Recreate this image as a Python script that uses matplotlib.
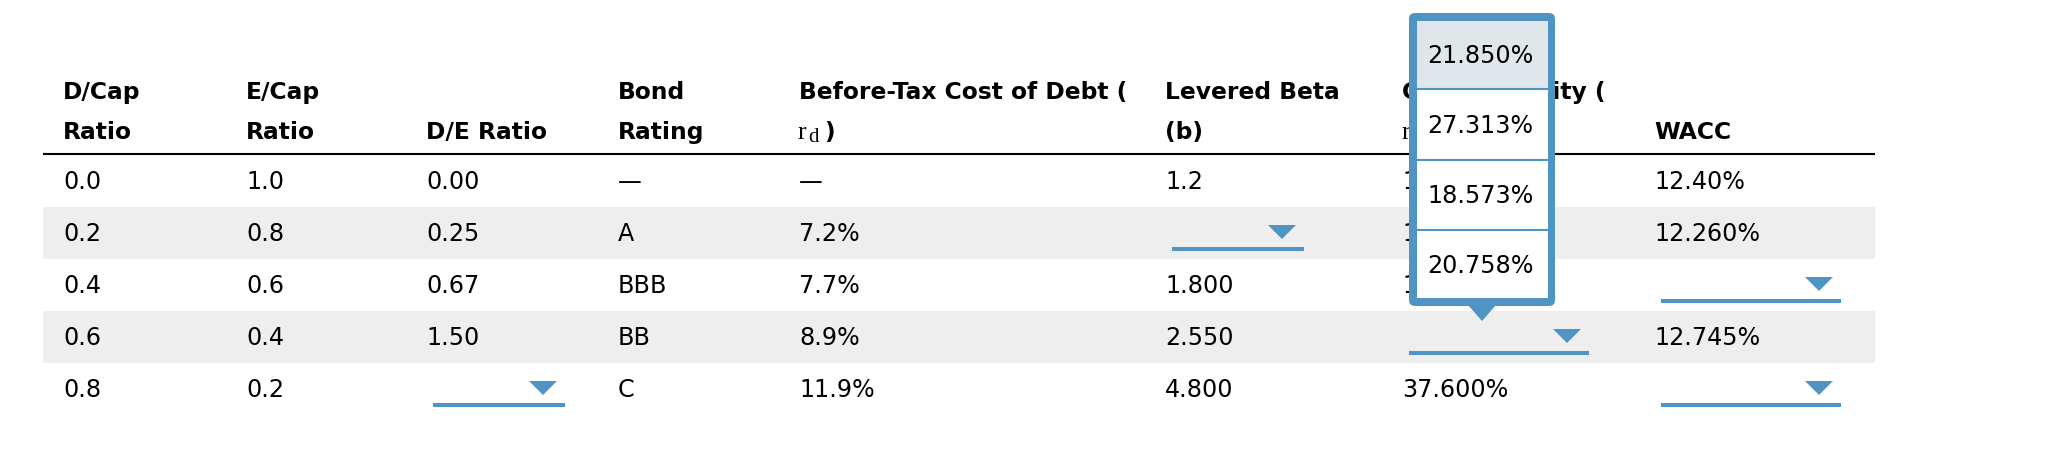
import matplotlib
matplotlib.use("Agg")
import matplotlib.pyplot as plt
from matplotlib.patches import FancyBboxPatch, Rectangle, Polygon

# ---------------- data ----------------
header_line1 = ["D/Cap", "E/Cap", "", "Bond", "Before-Tax Cost of Debt (", "Levered Beta", "Cost of Equity (", ""]
header_line2 = ["Ratio", "Ratio", "D/E Ratio", "Rating", None, "(b)", None, "WACC"]
dcap = ["0.0", "0.2", "0.4", "0.6", "0.8"]
ecap = ["1.0", "0.8", "0.6", "0.4", "0.2"]
de_ratio = ["0.00", "0.25", "0.67", "1.50", None]
bond_rating = ["—", "A", "BBB", "BB", "C"]
cost_debt = ["—", "7.2%", "7.7%", "8.9%", "11.9%"]
levered_beta = ["1.2", None, "1.800", "2.550", "4.800"]
cost_equity = ["12.40%", "13.975%", "16.600%", None, "37.600%"]
wacc = ["12.40%", "12.260%", None, "12.745%", None]
popup_options = ["21.850%", "27.313%", "18.573%", "20.758%"]

columns = [dcap, ecap, de_ratio, bond_rating, cost_debt, levered_beta, cost_equity, wacc]

# ---------------- layout / style ----------------
W, H = 2067, 458
col_x = [63, 246, 426, 618, 799, 1165, 1402, 1654]
row_base = [189, 241, 293, 345, 397]
hdr_base = [99, 139]
dropdown_width = {2: 132, 5: 132, 6: 180, 7: 180}
BLUE = "#5094c4"
GRAY = "#eeeeee"
HILITE = "#dfe7eb"
FS = 17.2
FSB = 16.8
FONT = "DejaVu Sans"

fig = plt.figure(figsize=(W / 100, H / 100), dpi=100)
ax = fig.add_axes([0, 0, 1, 1])
ax.set_xlim(0, W)
ax.set_ylim(H, 0)
ax.axis("off")

table_left, table_right = 43, 1875
# zebra bands
for i in range(len(dcap)):
    if i % 2 == 1:
        ax.add_patch(Rectangle((table_left, row_base[i] - 34), table_right - table_left, 52,
                               facecolor=GRAY, edgecolor="none", zorder=0))
# header rule
ax.plot([table_left, table_right], [153.7, 153.7], color="black", lw=1.5, solid_capstyle="butt", zorder=1)

# headers
for j, x in enumerate(col_x):
    if header_line1[j]:
        ax.text(x, hdr_base[0], header_line1[j], fontsize=FSB, fontweight="bold", family=FONT,
                va="baseline", ha="left", color="black", zorder=2)
    if header_line2[j]:
        ax.text(x, hdr_base[1], header_line2[j], fontsize=FSB, fontweight="bold", family=FONT,
                va="baseline", ha="left", color="black", zorder=2)

# r_d and r_e header pieces
for j, sub in [(4, "d"), (6, "e")]:
    x = col_x[j] - 1
    ax.text(x, hdr_base[1], "r", fontsize=18.5, family="Liberation Serif", va="baseline", ha="left", zorder=2)
    ax.text(x + 10, hdr_base[1] + 3, sub, fontsize=15, family="Liberation Serif", va="baseline", ha="left", zorder=2)
    ax.text(x + 26, hdr_base[1], ")", fontsize=FSB, fontweight="bold", family=FONT, va="baseline", ha="left", zorder=2)

# cells
for j, col in enumerate(columns):
    for i, val in enumerate(col):
        b = row_base[i]
        if val is None:
            x0 = col_x[j] + 7
            w = dropdown_width[j]
            ax.plot([x0, x0 + w], [b + 8, b + 8], color=BLUE, lw=2.9, solid_capstyle="butt", zorder=2)
            tx = x0 + w - 8
            ax.add_patch(Polygon([[tx - 28, b - 16], [tx, b - 16], [tx - 14, b - 2]], closed=True,
                                 facecolor=BLUE, edgecolor="none", zorder=2))
        else:
            ax.text(col_x[j], b, val, fontsize=FS, family=FONT, va="baseline", ha="left",
                    color="black", zorder=2)

# popup menu
px0, px1, py0, py1 = 1409, 1555, 13, 306
bw = 8
ax.add_patch(FancyBboxPatch((px0, py0), px1 - px0, py1 - py0, boxstyle="round,pad=0,rounding_size=6",
                            facecolor=BLUE, edgecolor="none", zorder=5))
ix0, ix1, iy0, iy1 = px0 + bw, px1 - 7, py0 + bw, py1 - bw
ax.add_patch(Rectangle((ix0, iy0), ix1 - ix0, iy1 - iy0, facecolor="white", edgecolor="none", zorder=6))
item_edges = [iy0, 89, 160, 230, iy1]
opt_base = [63, 133, 203, 273]
for k, opt in enumerate(popup_options):
    if k == 0:
        ax.add_patch(Rectangle((ix0, item_edges[0]), ix1 - ix0, item_edges[1] - item_edges[0],
                               facecolor=HILITE, edgecolor="none", zorder=6.5))
    if k > 0:
        ax.plot([ix0, ix1], [item_edges[k], item_edges[k]], color=BLUE, lw=1.5, zorder=7)
    ax.text(1427, opt_base[k], opt, fontsize=FS, family=FONT, va="baseline", ha="left",
            color="black", zorder=8)
ax.add_patch(Polygon([[1468, py1 - 1], [1496, py1 - 1], [1482, 321]], closed=True,
                     facecolor=BLUE, edgecolor="none", zorder=5))

fig.savefig("out.png", dpi=100, facecolor="white")
